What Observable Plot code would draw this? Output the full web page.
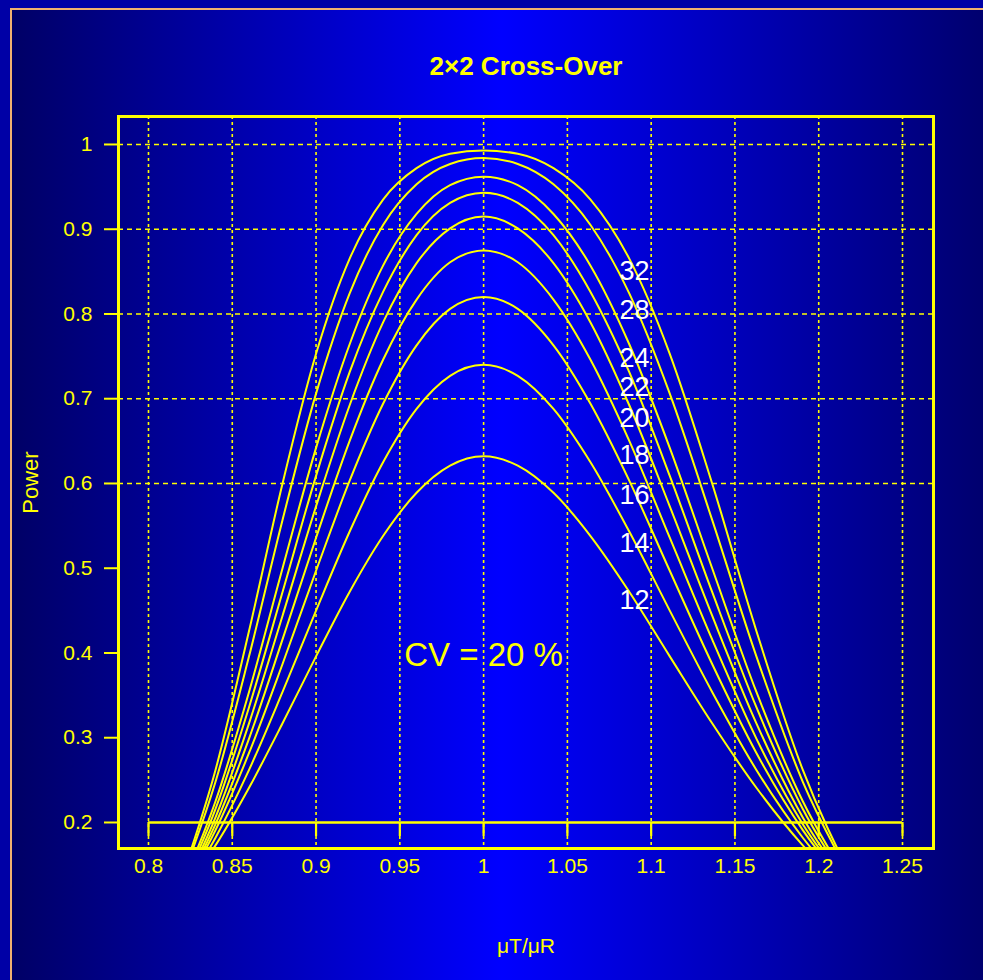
<!DOCTYPE html>
<html><head><meta charset="utf-8">
<script src="https://cdn.jsdelivr.net/npm/d3@7"></script>
<script src="https://cdn.jsdelivr.net/npm/@observablehq/plot@0.6"></script>
<style>
html,body{margin:0;padding:0;}
body{width:983px;height:980px;overflow:hidden;background:#0000a6;position:relative;font-family:"Liberation Sans",Arial,sans-serif;}
#bg{position:absolute;left:10px;top:8px;width:1000px;height:1000px;border-left:2px solid #f0b070;border-top:2px solid #f0b070;background:linear-gradient(to right,#000066 0%,#0000ff 49%,#000066 100%);}
#chart{position:absolute;left:0;top:0;}
</style></head><body><div id="bg"></div><div id="chart"></div>
<script>
const title = "2×2 Cross-Over";
const xLabel = "μT/μR";
const yLabel = "Power";
const cvLabel = "CV = 20 %";

const ratios = [0.82,0.84,0.86,0.88,0.90,0.92,0.94,0.96,0.98,1.00,1.0204,1.0417,1.0638,1.0870,1.1111,1.1364,1.1628,1.1905,1.2195];
const sampleSizes = [12,14,16,18,20,22,24,28,32];
const power12 = [0.117,0.173,0.241,0.317,0.396,0.472,0.538,0.589,0.621,0.632,0.621,0.589,0.538,0.472,0.396,0.317,0.241,0.173,0.117];
const power14 = [0.117,0.182,0.262,0.354,0.450,0.543,0.625,0.688,0.727,0.740,0.727,0.688,0.625,0.543,0.450,0.354,0.262,0.182,0.117];
const power16 = [0.119,0.191,0.282,0.387,0.497,0.603,0.694,0.763,0.806,0.820,0.806,0.763,0.694,0.603,0.497,0.387,0.282,0.191,0.119];
const power18 = [0.120,0.198,0.299,0.416,0.536,0.650,0.746,0.817,0.861,0.875,0.861,0.817,0.746,0.650,0.536,0.416,0.299,0.198,0.120];
const power20 = [0.121,0.206,0.317,0.444,0.573,0.692,0.790,0.860,0.901,0.915,0.901,0.860,0.790,0.692,0.573,0.444,0.317,0.206,0.121];
const power22 = [0.123,0.216,0.336,0.472,0.609,0.731,0.826,0.893,0.931,0.943,0.931,0.893,0.826,0.731,0.609,0.472,0.336,0.216,0.123];
const power24 = [0.126,0.225,0.354,0.500,0.642,0.764,0.857,0.918,0.952,0.962,0.952,0.918,0.857,0.764,0.642,0.500,0.354,0.225,0.126];
const power28 = [0.134,0.248,0.396,0.557,0.706,0.824,0.905,0.953,0.977,0.984,0.977,0.953,0.905,0.824,0.706,0.557,0.396,0.248,0.134];
const power32 = [0.136,0.262,0.426,0.600,0.753,0.865,0.935,0.972,0.989,0.993,0.989,0.972,0.935,0.865,0.753,0.600,0.426,0.262,0.136];

const labelRatio = 1.09;
const labelPower = [0.462,0.529,0.586,0.633,0.677,0.713,0.748,0.804,0.850];
const cvRatio = 1.0;
const cvPower = 0.397;

const xTicks = [0.8,0.85,0.9,0.95,1,1.05,1.1,1.15,1.2,1.25];
const xTickLabels = ["0.8","0.85","0.9","0.95","1","1.05","1.1","1.15","1.2","1.25"];
const yTicks = [0.2,0.3,0.4,0.5,0.6,0.7,0.8,0.9,1];
const yTickLabels = ["0.2","0.3","0.4","0.5","0.6","0.7","0.8","0.9","1"];
const yGrid = [0.6,0.7,0.8,0.9,1];
const baseLine = 0.2;

const series = [power12,power14,power16,power18,power20,power22,power24,power28,power32];
const rows = sampleSizes.flatMap((n,k) => ratios.map((r,i) => ({n, r, p: series[k][i]})));
const labelRows = sampleSizes.map((n,i) => ({n, r: labelRatio, p: labelPower[i]}));

const Y = "#ffff00";
const FONT = "'Liberation Sans', Arial, Helvetica, sans-serif";

const chart = Plot.plot({
  width: 983, height: 980,
  marginLeft: 118, marginRight: 50, marginTop: 116, marginBottom: 132,
  style: {background: "transparent", color: Y, fontFamily: FONT, overflow: "visible"},
  x: {domain: [0.7821, 1.2685]},
  y: {domain: [0.1693, 1.033]},
  marks: [
    Plot.ruleX(xTicks, {stroke: Y, strokeWidth: 1.6, strokeDasharray: "3,3"}),
    Plot.ruleY(yGrid, {stroke: Y, strokeWidth: 1.4, strokeDasharray: "5,4"}),
    Plot.ruleY([baseLine], {x1: xTicks[0], x2: xTicks[xTicks.length-1], stroke: Y, strokeWidth: 2.5}),
    Plot.ruleX(xTicks, {y1: baseLine, y2: baseLine, insetBottom: -14, stroke: Y, strokeWidth: 2.2}),
    Plot.line(rows, {x: "r", y: "p", z: "n", stroke: Y, strokeWidth: 2, curve: "monotone-x", clip: true}),
    Plot.text(labelRows, {x: "r", y: "p", text: d => String(d.n), fill: "white", fontSize: 27}),
    Plot.text([cvLabel], {x: cvRatio, y: cvPower, fill: Y, fontSize: 33}),
    Plot.frame({stroke: Y, strokeWidth: 3}),
    Plot.axisY({ticks: yTicks, tickSize: 14, tickPadding: 12, strokeWidth: 2,
      tickFormat: d => yTickLabels[yTicks.indexOf(d)], fontSize: 21, label: null}),
    Plot.axisX({ticks: xTicks, tickSize: 0, tickPadding: 10,
      tickFormat: d => xTickLabels[xTicks.indexOf(d)], fontSize: 21, label: null}),
    Plot.text([title], {frameAnchor: "top", lineAnchor: "middle", textAnchor: "middle", dy: -50, fontSize: 26, fontWeight: "bold", fill: Y}),
    Plot.text([xLabel], {frameAnchor: "bottom", lineAnchor: "middle", textAnchor: "middle", dy: 98, fontSize: 21, fill: Y}),
    Plot.text([yLabel], {frameAnchor: "left", lineAnchor: "middle", textAnchor: "middle", dx: -88, rotate: -90, fontSize: 22, fill: Y})
  ]
});
document.getElementById("chart").appendChild(chart);
</script>
</body></html>
